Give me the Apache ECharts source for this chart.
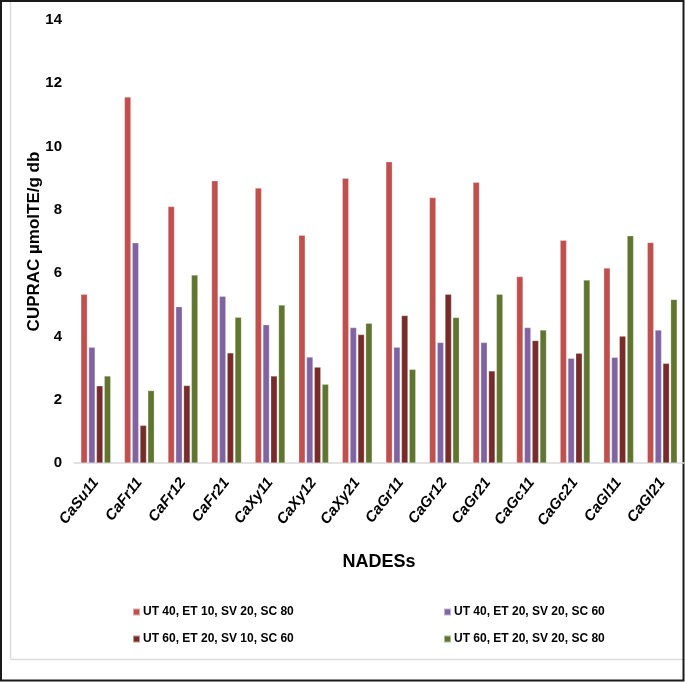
<!DOCTYPE html>
<html>
<head>
<meta charset="utf-8">
<script src="https://cdn.jsdelivr.net/npm/echarts@6/dist/echarts.min.js"></script>
<style>html,body{margin:0;padding:0;background:#fff;}#c{width:685px;height:682px;}</style>
</head>
<body>
<div id="c"></div>
<script>
const categories = ['CaSu11','CaFr11','CaFr12','CaFr21','CaXy11','CaXy12','CaXy21','CaGr11','CaGr12','CaGr21','CaGc11','CaGc21','CaGl11','CaGl21'];
const seriesNames = ['UT 40, ET 10, SV 20, SC 80','UT 40, ET 20, SV 20, SC 60','UT 60, ET 20, SV 10, SC 60','UT 60, ET 20, SV 20, SC 80'];
const ut40et10 = [5.33, 11.57, 8.11, 8.92, 8.69, 7.20, 9.00, 9.52, 8.39, 8.87, 5.89, 7.04, 6.16, 6.97];
const ut40et20 = [3.66, 6.96, 4.94, 5.27, 4.37, 3.35, 4.28, 3.66, 3.81, 3.81, 4.28, 3.31, 3.34, 4.20];
const ut60sv10 = [2.44, 1.19, 2.45, 3.48, 2.75, 3.03, 4.06, 4.66, 5.33, 2.91, 3.87, 3.47, 4.01, 3.15];
const ut60sv20 = [2.75, 2.29, 5.94, 4.61, 4.99, 2.49, 4.42, 2.96, 4.60, 5.33, 4.20, 5.78, 7.18, 5.17];
const yTicks = [0, 2, 4, 6, 8, 10, 12, 14];

const colors = ['#C0504D', '#8064A2', '#772C2A', '#5F7530'];
const values = [ut40et10, ut40et20, ut60sv10, ut60sv20];
const sans = "'Liberation Sans', Arial, sans-serif";

const chart = echarts.init(document.getElementById('c'), null, {renderer: 'canvas'});
chart.setOption({
  animation: false,
  backgroundColor: '#fff',
  grid: {left: 74, top: 20, width: 610, height: 443, containLabel: false},
  xAxis: {
    type: 'category',
    data: categories,
    name: 'NADESs',
    nameLocation: 'middle',
    nameGap: 90,
    nameMoveOverlap: false,
    nameTextStyle: {fontFamily: sans, fontWeight: 'bold', fontSize: 18, color: '#000'},
    axisLine: {lineStyle: {color: '#d9d9d9', width: 1.5}},
    axisTick: {show: false},
    axisLabel: {rotate: 52, margin: 17, fontFamily: sans, fontWeight: 'bold', fontStyle: 'italic', fontSize: 15, color: '#000'}
  },
  yAxis: {
    type: 'value',
    min: yTicks[0],
    max: yTicks[yTicks.length - 1],
    interval: 2,
    name: 'CUPRAC µmolTE/g db',
    nameLocation: 'middle',
    nameGap: 31,
    nameMoveOverlap: false,
    nameTextStyle: {fontFamily: sans, fontWeight: 'bold', fontSize: 17, color: '#000'},
    axisLine: {show: false},
    axisTick: {show: false},
    splitLine: {show: false},
    axisLabel: {margin: 12, fontFamily: sans, fontWeight: 'bold', fontSize: 15, color: '#000'}
  },
  legend: [
    {data: [seriesNames[0], seriesNames[2]], orient: 'vertical', left: 132, top: 605, padding: 0, icon: 'rect', itemWidth: 7, itemHeight: 7, itemGap: 13,
     textStyle: {fontFamily: sans, fontWeight: 'bold', fontSize: 12, lineHeight: 14, color: '#000', padding: [0, 0, 0, -2]}},
    {data: [seriesNames[1], seriesNames[3]], orient: 'vertical', left: 443, top: 605, padding: 0, icon: 'rect', itemWidth: 7, itemHeight: 7, itemGap: 13,
     textStyle: {fontFamily: sans, fontWeight: 'bold', fontSize: 12, lineHeight: 14, color: '#000', padding: [0, 0, 0, -2]}}
  ],
  series: seriesNames.map((n, i) => ({
    name: n,
    type: 'bar',
    data: values[i],
    barWidth: 6.5,
    barGap: '20%',
    itemStyle: {color: colors[i], borderColor: 'rgba(255,255,255,0.5)', borderWidth: 0.5}
  })),
  graphic: [
    {type: 'line', silent: true, shape: {x1: 10.5, y1: 0, x2: 10.5, y2: 659.5}, style: {stroke: '#dcdcdc', lineWidth: 1.5}},
    {type: 'line', silent: true, shape: {x1: 10.5, y1: 659.5, x2: 685, y2: 659.5}, style: {stroke: '#dcdcdc', lineWidth: 1.5}},
    {type: 'rect', silent: true, shape: {x: 1, y: 1, width: 682.5, height: 679.5}, style: {fill: 'none', stroke: '#1a1a1a', lineWidth: 2}}
  ]
});
</script>
</body>
</html>
